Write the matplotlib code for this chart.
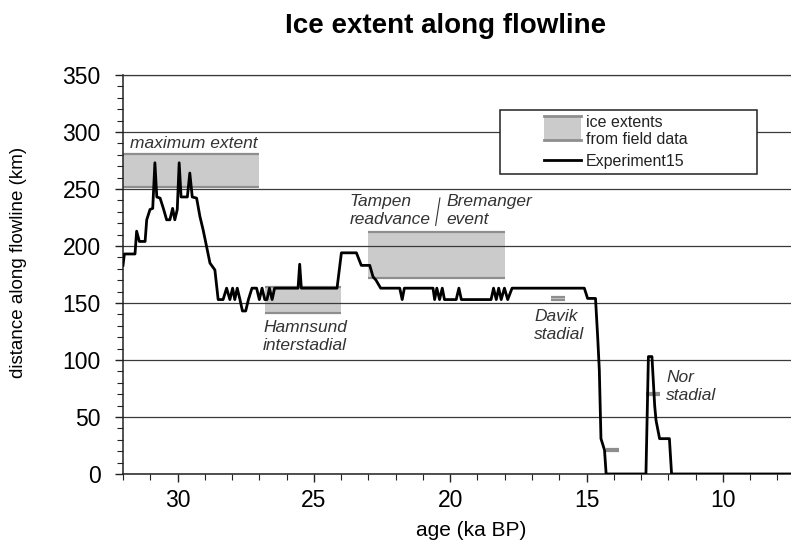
"""
Ice extent along flowline: modelled ice margin (Experiment15)
against ice-extent ranges from field data.
"""

import matplotlib
matplotlib.use("Agg")
import matplotlib.pyplot as plt
from matplotlib.legend_handler import HandlerBase
from matplotlib.patches import Rectangle
from matplotlib.lines import Line2D

plt.rcParams['font.family'] = ['Liberation Sans', 'DejaVu Sans']

# Experiment15 model run: age (ka BP) and ice margin distance (km)
exp_age = [
    32.0, 31.95, 31.56, 31.50, 31.40, 31.19, 31.13, 31.01, 30.91, 30.83, 30.76,
    30.64, 30.52, 30.40, 30.28, 30.18, 30.10, 30.01, 29.94, 29.87, 29.64, 29.55,
    29.46, 29.30, 29.18, 29.06, 28.93, 28.81, 28.63, 28.51, 28.33, 28.20, 28.08,
    27.98, 27.90, 27.81, 27.71, 27.62, 27.50, 27.40, 27.27, 27.10, 27.00, 26.90,
    26.80, 26.72, 26.63, 26.53, 26.44, 25.58, 25.52, 25.46, 24.15, 23.99, 23.44,
    23.26, 22.95, 22.83, 22.72, 22.55, 21.85, 21.76, 21.68, 20.63, 20.57, 20.49,
    20.39, 20.29, 20.21, 19.78, 19.68, 19.59, 18.50, 18.41, 18.31, 18.22, 18.13,
    18.01, 17.89, 17.73, 15.08, 14.96, 14.67, 14.59, 14.53, 14.47, 14.34, 14.28,
    12.82, 12.73, 12.60, 12.50, 12.45, 12.32, 11.96, 11.88, 7.5,
]
exp_dist = [
    183, 193, 193, 213, 204, 204, 223, 232, 233, 273, 243,
    242, 233, 223, 223, 233, 223, 232, 273, 243, 243, 264,
    243, 242, 226, 214, 199, 185, 179, 153, 153, 163, 153,
    163, 153, 163, 153, 143, 143, 153, 163, 163, 153, 163,
    153, 153, 163, 153, 163, 163, 184, 163, 163, 194, 194,
    183, 183, 173, 170, 163, 163, 153, 163, 163, 153, 163,
    153, 163, 153, 153, 163, 153, 153, 163, 153, 163, 153,
    163, 153, 163, 163, 154, 154, 120, 91, 31, 21, 0,
    0, 103, 103, 60, 47, 31, 31, 0, 0,
]

# ice extent ranges from field data (age span, distance span)
field_old = [32.0, 26.8, 23.0, 16.3, 14.3, 12.8]
field_young = [27.0, 24.0, 18.0, 15.8, 13.8, 12.3]
field_low = [252, 141, 172, 153, 20, 69]
field_high = [281, 164, 212, 155, 22, 71]

event_labels = ["maximum extent", "Hamnsund\ninterstadial", "Tampen\nreadvance",
                "Bremanger\nevent", "Davik\nstadial", "Nor\nstadial"]

x_major = [30, 25, 20, 15, 10]
y_major = [0, 50, 100, 150, 200, 250, 300, 350]

BAND_FILL = '#cbcbcb'
BAND_EDGE = '#8e8e8e'
TEXT_GREY = '#333333'


class FieldHandler(HandlerBase):
    """Legend handle drawn in the right part of a wide handle box."""

    def __init__(self, kind):
        super().__init__()
        self.kind = kind

    def create_artists(self, legend, orig_handle, xdescent, ydescent,
                       width, height, fontsize, trans):
        x1 = width - xdescent
        x0 = x1 - 2.3 * fontsize
        if self.kind == 'band':
            y0, y1 = -0.17 * fontsize, 1.29 * fontsize
            rect = Rectangle((x0, y0), x1 - x0, y1 - y0, facecolor=BAND_FILL,
                             edgecolor='none', transform=trans)
            top = Line2D([x0, x1], [y1, y1], color=BAND_EDGE, lw=2, transform=trans)
            bot = Line2D([x0, x1], [y0, y0], color=BAND_EDGE, lw=2, transform=trans)
            return [rect, top, bot]
        yl = 0.37 * fontsize
        return [Line2D([x0, x1], [yl, yl], color='black', lw=2, transform=trans)]


def main():
    fig = plt.figure(figsize=(7.91, 5.45), dpi=100)
    ax = fig.add_axes([0.1555, 0.1303, 0.8445, 0.7321])
    ax.set_axisbelow('line')

    # field data bands
    bands = []
    for a0, a1, lo, hi in zip(field_old, field_young, field_low, field_high):
        b = ax.fill_between([a0, a1], lo, hi, color=BAND_FILL, lw=0, zorder=1)
        ax.hlines([lo, hi], a1, a0, color=BAND_EDGE, lw=1.6, zorder=2)
        bands.append(b)

    curve, = ax.plot(exp_age, exp_dist, color='black', lw=2, zorder=3)

    ax.set_xlim(32, 7.5)
    ax.set_ylim(0, 350)
    ax.set_xticks(x_major)
    ax.set_xticks(range(8, 33), minor=True)
    ax.set_yticks(y_major)
    ax.set_yticks(range(0, 351, 10), minor=True)
    ax.yaxis.grid(True, which='major', color='#3a3a3a', lw=0.9)

    ax.spines['right'].set_visible(False)
    ax.spines['top'].set_color('#3a3a3a')
    ax.spines['top'].set_linewidth(0.9)
    for s in ('left', 'bottom'):
        ax.spines[s].set_linewidth(1.1)
        ax.spines[s].set_color('#222222')

    ax.tick_params(which='major', length=6, width=1, labelsize=16.5, color='#222222')
    ax.tick_params(which='minor', length=4, width=0.8, color='#222222')
    ax.tick_params(axis='y', which='major', pad=10)
    ax.tick_params(axis='x', which='major', pad=5)

    ax.set_xlabel("age (ka BP)", fontsize=15)
    ax.set_ylabel("distance along flowline (km)", fontsize=13.5)
    ax.xaxis.set_label_coords(0.521, -0.118)
    ax.yaxis.set_label_coords(-0.144, 0.53)

    fig.text(0.563, 0.9394, "Ice extent along flowline", fontsize=20,
             fontweight='bold', ha='center', va='baseline')

    # event labels
    label_pos = [(31.74, 289.5), (26.86, 120.4), (23.68, 231),
                 (20.15, 231), (16.91, 130), (12.08, 76.6)]
    for text, (a, d) in zip(event_labels, label_pos):
        ax.text(a, d, text, fontsize=12.5, style='italic', color=TEXT_GREY,
                ha='left', va='center', linespacing=1.25, zorder=4)
    ax.annotate('', xy=(20.55, 215.5), xytext=(20.36, 244.7),
                arrowprops=dict(arrowstyle='-', color=TEXT_GREY, lw=0.8))

    leg = ax.legend([bands[0], curve], ["ice extents\nfrom field data", "Experiment15"],
                    loc='upper left', bbox_to_anchor=(0.564, 0.754, 0.385, 0.158),
                    mode='expand', borderaxespad=0, borderpad=0.3,
                    handlelength=4.8, handletextpad=0.3, labelspacing=0.42,
                    fontsize=11.5, fancybox=False, framealpha=1, edgecolor='#222222',
                    handler_map={bands[0]: FieldHandler('band'),
                                 curve: FieldHandler('line')})
    leg.get_frame().set_linewidth(1.1)
    leg.set_zorder(5)
    for t in leg.get_texts():
        t.set_color('#222222')

    fig.savefig("out.png", dpi=100)


if __name__ == "__main__":
    main()
